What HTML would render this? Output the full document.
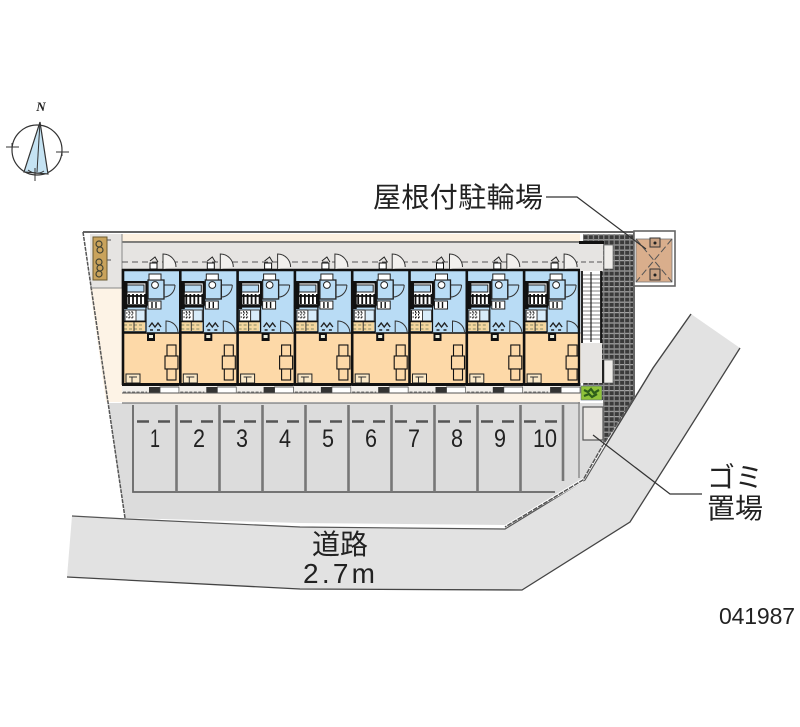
<!DOCTYPE html>
<html><head><meta charset="utf-8"><style>
html,body{margin:0;padding:0;background:#fff}
svg{display:block}
text{font-family:"Liberation Sans","Noto Sans CJK JP",sans-serif;fill:#222}
</style></head><body>
<svg width="800" height="727" viewBox="0 0 800 727" xmlns="http://www.w3.org/2000/svg">
<defs>
<pattern id="mesh" width="5.2" height="5.2" patternUnits="userSpaceOnUse">
<rect width="5.2" height="5.2" fill="#3a3a3a"/>
<rect width="5.2" height="1.2" fill="#a5a5a5"/>
<rect width="1.2" height="5.2" fill="#8a8a8a"/>
</pattern>
<g id="unit">
<rect x="0" y="0" width="57.3" height="64" fill="#b9dcf5"/>
<rect x="0" y="64" width="57.3" height="51" fill="#fdd9a8"/>
<rect x="0" y="115" width="57.3" height="9" fill="#f2efeb"/>
<!-- kitchen/bath block -->
<rect x="3" y="13" width="22" height="23" fill="#fff" stroke="#111" stroke-width="1.5"/>
<rect x="5" y="16" width="17" height="7" fill="#b9dcf5" stroke="#222" stroke-width="1"/>
<path d="M4 27H24M7 25V35M11 25V35M15 25V35M19 25V35M23 25V35" stroke="#111" stroke-width="1.8" fill="none"/>
<rect x="0" y="12" width="25" height="2.4" fill="#111"/>
<rect x="0" y="36" width="25" height="2.6" fill="#111"/>
<rect x="2" y="12" width="3.5" height="28" fill="#111"/>
<!-- toilet -->
<rect x="26" y="11" width="16" height="19" fill="#b9dcf5" stroke="#222" stroke-width="1.3"/>
<circle cx="33" cy="16" r="3.4" fill="#fff" stroke="#222"/>
<rect x="27" y="5" width="12" height="6" fill="#fff" stroke="#222"/>
<rect x="26" y="32" width="13" height="8" fill="#fff" stroke="#222"/>
<path d="M30 33v6M34 33v6" stroke="#111" stroke-width="1.4"/>
<path d="M42 16H53M42 16V30" stroke="#222" stroke-width="1" fill="none"/>
<path d="M53 16A11 12 0 0 1 42 28" stroke="#333" fill="none"/>
<!-- washing -->
<rect x="3" y="41" width="11" height="11" fill="#fff" stroke="#222"/>
<path d="M4 44h9M4 48h9M7 42v9M10 42v9" stroke="#111" stroke-dasharray="1.5 1.5"/>
<rect x="14" y="41" width="9" height="11" fill="#d8ecfa" stroke="#444"/>
<rect x="2" y="53" width="21" height="9" fill="#f5d79f"/>
<path d="M2 56h20M2 60h20" stroke="#886" stroke-dasharray="3 2"/>
<path d="M12 53v9" stroke="#333"/>
<path d="M2 52.5H24M2 63H24" stroke="#111" stroke-width="1.6"/>
<path d="M24 12V63" stroke="#111" stroke-width="1.2"/>
<!-- entrance -->
<path d="M27 58l3-4 3 4 3-4 3 4M28 61h3M35 61h3" stroke="#222" stroke-width="1.4" fill="none"/>
<path d="M56 63A12 12 0 0 0 44 52V63" stroke="#333" fill="none"/>
<rect x="25" y="64" width="8" height="8" fill="#111"/>
<rect x="27" y="66" width="4" height="3" fill="#eed"/>
<!-- table set -->
<rect x="45" y="76" width="9" height="11" fill="#fdd9a8" stroke="#111" stroke-width="1.1"/>
<rect x="43" y="87" width="13" height="13" fill="#fdd9a8" stroke="#111" stroke-width="1.1"/>
<rect x="45" y="100" width="9" height="11" fill="#fdd9a8" stroke="#111" stroke-width="1.1"/>
<rect x="4" y="105" width="14" height="9" fill="#fbe9c8" stroke="#222"/>
<path d="M7 108h8M10 108v6" stroke="#333"/>
<!-- walls -->
<path d="M0 1H57.3" stroke="#111" stroke-width="2.4"/>
<path d="M1 0V116" stroke="#111" stroke-width="2.6"/>
<path d="M0 64H57.3" stroke="#111" stroke-width="1.6"/>
<rect x="0" y="114" width="57.3" height="3" fill="#111"/>
<!-- balcony -->
<rect x="27" y="118" width="11" height="6" fill="#333"/>
<rect x="38" y="118" width="19" height="6" fill="#fff" stroke="#444" stroke-width=".8"/>
<path d="M1 123H25" stroke="#777" stroke-dasharray="3 1.5"/>
<path d="M0 124H57" stroke="#555" stroke-width="1"/>
<!-- outside door -->
<path d="M41 0V-15A13 13 0 0 1 54 -2" stroke="#333" fill="#f2f0ee"/>
<rect x="28" y="-6" width="7" height="6" fill="#fff" stroke="#111"/>
<path d="M28 -8l5-4 3 5" stroke="#222" fill="none"/>
</g>
</defs>

<!-- road -->
<polygon points="72,516 127,519 300,527 505,529 585,480 606,445 653,368 691,314 740,348 682,440 630,522 522,590 300,589 67,577" fill="#e2e2e2"/>
<path d="M72,516 127,519 300,527 505,529 585,480 606,445" fill="none" stroke="#555" stroke-width="1.2"/>
<path d="M606,445 653,368 691,314" fill="none" stroke="#444" stroke-width="1.4"/>
<path d="M740,348 682,440 630,522 522,590 300,589 67,577" fill="none" stroke="#444" stroke-width="1.3"/>

<!-- site ground -->
<polygon points="83,232 634,232 634,398 603,445 583,482 505,527 300,525 125,518" fill="#fff"/>
<polygon points="108,403 603,403 603,445 583,478 505,525 300,523 125,518" fill="#dcdcdc"/>
<polygon points="90,288 122,288 122,393 580,393 580,402 106,402" fill="#fdf3e6"/>
<polygon points="90,234 122,234 122,288 90,288" fill="#e6e4e2"/>
<rect x="122" y="234" width="458" height="8" fill="#fdf0df"/>
<rect x="122" y="243" width="458" height="26" fill="#e6e4e2"/>
<!-- mesh -->
<polygon points="583,234 634,234 634,398 603,445 603,400 583,400" fill="url(#mesh)"/>
<!-- outlines -->
<path d="M83,232H634V398" fill="none" stroke="#666" stroke-width="2"/>
<path d="M122,242H582" stroke="#555" stroke-width="1.4"/>
<path d="M83,232L125,518" stroke="#555" stroke-width="1.5" stroke-dasharray="4 1"/>
<path d="M634,398 603,445 583,480 505,527" fill="none" stroke="#555" stroke-width="1.5" stroke-dasharray="5 1"/>
<path d="M90,288H122M122,234V288" stroke="#888" stroke-width="1"/>
<rect x="93" y="237" width="14" height="43" fill="#c9a35c" stroke="#6b5a30"/>
<g fill="none" stroke="#443" stroke-width="1.2">
<circle cx="99" cy="244" r="3"/><circle cx="100" cy="250" r="3"/><circle cx="99" cy="262" r="3"/><circle cx="100" cy="268" r="3"/><circle cx="99" cy="274" r="3"/>
</g>
<path d="M107 240h4M107 260h4" stroke="#555"/>
<path d="M122,262H580" stroke="#555" stroke-width="1" stroke-dasharray="6 4"/>

<!-- units -->
<use href="#unit" x="122" y="269"/>
<use href="#unit" x="179.3" y="269"/>
<use href="#unit" x="236.6" y="269"/>
<use href="#unit" x="293.9" y="269"/>
<use href="#unit" x="351.2" y="269"/>
<use href="#unit" x="408.5" y="269"/>
<use href="#unit" x="465.8" y="269"/>
<use href="#unit" x="523.1" y="269"/>
<path d="M579,269V385" stroke="#111" stroke-width="2.4"/>
<path d="M122,403H580" stroke="#777" stroke-width="1.2"/>

<!-- stairs side -->
<rect x="580" y="243" width="23" height="28" fill="#e6e4e2"/>
<rect x="579" y="241" width="25" height="3" fill="#111"/>
<rect x="604" y="245" width="9" height="24" fill="#efedea" stroke="#666" stroke-width=".7"/>
<rect x="604" y="360" width="9" height="23" fill="#efedea" stroke="#666" stroke-width=".7"/>
<path d="M581,262H603" stroke="#555" stroke-dasharray="5 3"/>
<rect x="582" y="271" width="19" height="72" fill="#fff"/>
<path d="M583 275H600M583 279H600M583 283H600M583 287H600M583 291H600M583 295H600M583 299H600M583 303H600M583 307H600M583 311H600M583 315H600M583 319H600M583 323H600M583 327H600M583 331H600M583 335H600M583 339H600" stroke="#aaa" stroke-width="1.5"/>
<path d="M591,272V342" stroke="#222" stroke-width="1.2"/>
<path d="M582,271V343M601,271V360" stroke="#111" stroke-width="1.8"/>
<rect x="581" y="343" width="21" height="40" fill="#e6e4e2"/>
<rect x="602" y="360" width="2" height="23" fill="#222"/>
<rect x="581" y="386" width="21" height="14" fill="#8fc23a" stroke="#567" stroke-width=".6"/>
<path d="M584 390l4 2 3-3 3 4 5-3M584 396l5-2 3 3 5-3" stroke="#2d5e1a" stroke-width="2.2" fill="none"/>
<rect x="580" y="403" width="23" height="42" fill="#dcdcdc"/>
<rect x="583" y="407" width="20" height="33" fill="#e9e6e3" stroke="#555" stroke-width="1.2"/>
<path d="M579,402V478" stroke="#888" stroke-width="1.4"/>

<!-- roofed bike parking -->
<rect x="634" y="231" width="41" height="55" fill="#fff" stroke="#666" stroke-width="1.6"/>
<rect x="636" y="239" width="36" height="43" fill="#d9ae8c" stroke="#777" stroke-width=".8"/>
<path d="M636,239L672,282M672,239L636,282" stroke="#555" stroke-width="1" stroke-dasharray="7 3" fill="none"/>
<rect x="650" y="238" width="10" height="9" fill="#c9a283" stroke="#333"/>
<rect x="650" y="269" width="10" height="11" fill="#c9a283" stroke="#333"/>
<circle cx="655" cy="243" r="1.5" fill="#222"/><circle cx="655" cy="275" r="1.5" fill="#222"/>

<!-- parking stalls -->
<path d="M133,405V492H555" fill="none" stroke="#666" stroke-width="1.8"/>
<path d="M176.500,405V492M219.500,405V492M262.500,405V492M305.500,405V492M348.500,405V492M391.500,405V492M434.500,405V492M477.500,405V492M520.500,405V492M563,405V481" stroke="#777" stroke-width="2.6"/>
<path d="M137,421.500H172M180,421.500H215M223,421.500H258M266,421.500H301M309,421.500H344M352,421.500H387M395,421.500H430M438,421.500H473M481,421.500H516M524,421.500H559" stroke="#555" stroke-width="2.4" stroke-dasharray="12 9"/>
<g font-size="25" text-anchor="middle">
<text x="155" y="447" textLength="10" lengthAdjust="spacingAndGlyphs">1</text>
<text x="199" y="447" textLength="12" lengthAdjust="spacingAndGlyphs">2</text>
<text x="242" y="447" textLength="12" lengthAdjust="spacingAndGlyphs">3</text>
<text x="285" y="447" textLength="12" lengthAdjust="spacingAndGlyphs">4</text>
<text x="328" y="447" textLength="12" lengthAdjust="spacingAndGlyphs">5</text>
<text x="371" y="447" textLength="12" lengthAdjust="spacingAndGlyphs">6</text>
<text x="414" y="447" textLength="12" lengthAdjust="spacingAndGlyphs">7</text>
<text x="457" y="447" textLength="12" lengthAdjust="spacingAndGlyphs">8</text>
<text x="500" y="447" textLength="12" lengthAdjust="spacingAndGlyphs">9</text>
<text x="545" y="447" textLength="24" lengthAdjust="spacingAndGlyphs">10</text>
</g>

<!-- leaders -->
<path d="M546,197H577L646,249" fill="none" stroke="#333" stroke-width="1.2"/>
<path d="M593,435L670,494H702" fill="none" stroke="#333" stroke-width="1.2"/>

<!-- labels -->
<text x="373" y="207" font-size="28" textLength="170">屋根付駐輪場</text>
<text x="707" y="487" font-size="28" textLength="56">ゴミ</text>
<text x="707" y="518" font-size="28" textLength="56">置場</text>
<text x="312" y="554" font-size="28" textLength="56">道路</text>
<text x="303" y="583" font-size="28" textLength="72">2.7m</text>
<text x="719" y="624" font-size="23" textLength="76">041987</text>

<!-- compass -->
<circle cx="37" cy="150" r="25" fill="#fff" stroke="#333" stroke-width="1.2"/>
<polygon points="40,122 24,172 48,174" fill="#c5e3f3" stroke="#333" stroke-width="1.2"/>
<path d="M40,122L37,172" stroke="#333" stroke-width="1"/>
<path d="M6,147H19M56,152H69M35,168V181" stroke="#333" stroke-width="1"/>
<path d="M12,143V152M62,148V156M28,170Q36,176 44,171" stroke="#333" stroke-width="1" fill="none"/>
<text x="41" y="111" font-size="13" text-anchor="middle" style="font-family:'Liberation Serif',serif;font-style:italic;font-weight:bold">N</text>
</svg>
</body></html>
